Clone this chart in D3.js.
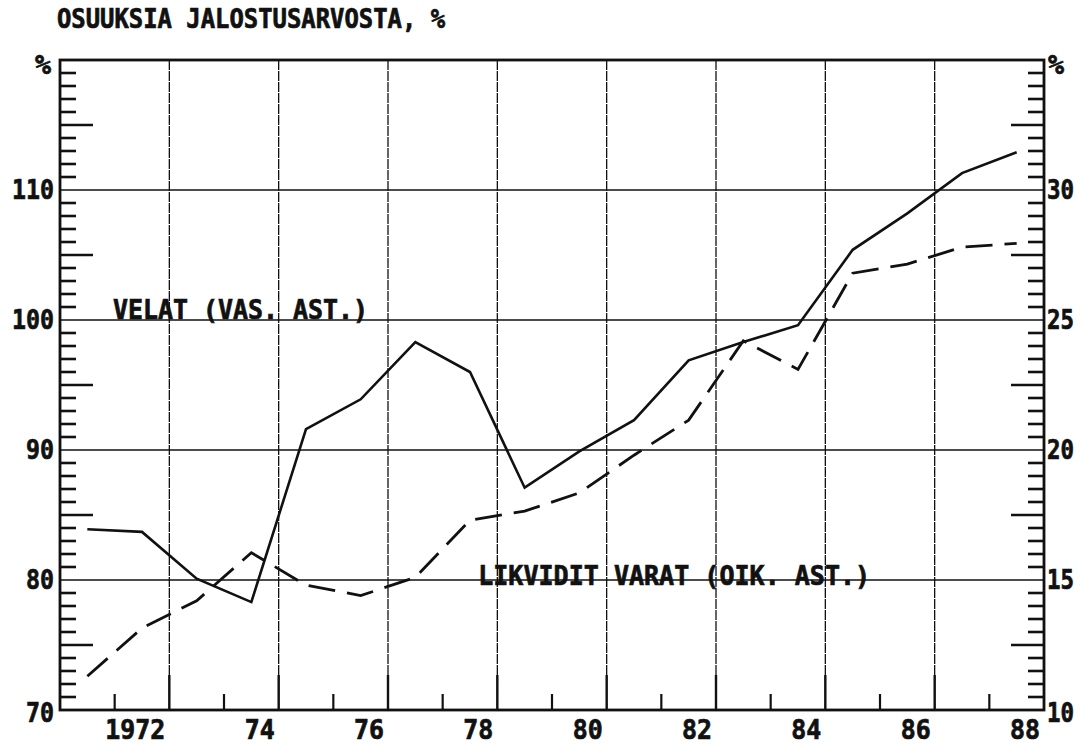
<!DOCTYPE html>
<html>
<head>
<meta charset="utf-8">
<script src="https://cdn.jsdelivr.net/npm/d3@7"></script>
<style>
    body { margin: 0; background: #fff; }
    svg text { font-family: "DejaVu Sans Mono", monospace; font-weight: bold; fill: #111; stroke: #111; stroke-width: 0.7px; }
</style>
</head>
<body>
<script>
const years = [1971, 1972, 1973, 1974, 1975, 1976, 1977, 1978, 1979, 1980, 1981, 1982, 1983, 1984, 1985, 1986, 1987, 1988];
// velat, vasen asteikko
const velat = [83.9, 83.7, 80.1, 78.3, 91.6, 93.9, 98.3, 96.0, 87.1, 89.9, 92.3, 96.9, 98.3, 99.6, 105.4, 108.2, 111.3, 112.9];
// likvidit varat, oikea asteikko
const likvidit = [11.3, 13.15, 14.2, 16.05, 14.8, 14.4, 15.1, 17.3, 17.65, 18.35, 19.8, 21.15, 24.2, 23.1, 26.8, 27.15, 27.8, 27.95];

const xLabelYears = [1972, 1974, 1976, 1978, 1980, 1982, 1984, 1986, 1988];
const xLabels = ["1972", "74", "76", "78", "80", "82", "84", "86", "88"];
const leftTicks = [70, 80, 90, 100, 110];
const rightTicks = [10, 15, 20, 25, 30];
const title = "OSUUKSIA JALOSTUSARVOSTA, %";
const velatLabel = "VELAT (VAS. AST.)";
const likviditLabel = "LIKVIDIT VARAT (OIK. AST.)";

function getMainNode() {
    let width = 1084;
    let height = 746;
    let left = 60, right = 1044, top = 60, bottom = 710;

    let x = d3.scaleLinear().domain([1970.5, 1988.5]).range([left, right]);
    let yL = d3.scaleLinear().domain([70, 120]).range([bottom, top]);
    let yR = d3.scaleLinear().domain([10, 35]).range([bottom, top]);

    let div = d3.create("div");
    let svg = div.append("svg").attr("width", width).attr("height", height)
        .style("display", "block");
    svg.append("rect").attr("width", width).attr("height", height).attr("fill", "#fff");

    // vaakasuorat apuviivat
    svg.selectAll("line.hgrid")
        .data([80, 90, 100, 110])
        .enter()
        .append("line")
        .attr("x1", left).attr("x2", right)
        .attr("y1", (d) => yL(d)).attr("y2", (d) => yL(d))
        .attr("stroke", "#111").attr("stroke-width", 1.7);

    // pystysuorat apuviivat
    let gridYears = d3.range(1972.5, 1988, 2);
    svg.selectAll("line.vgrid")
        .data(gridYears)
        .enter()
        .append("line")
        .attr("x1", (d) => x(d)).attr("x2", (d) => x(d))
        .attr("y1", top).attr("y2", bottom)
        .attr("stroke", "#111").attr("stroke-width", 1.3)
        .attr("stroke-dasharray", "10,1");
    svg.selectAll("line.vgridtick")
        .data(gridYears)
        .enter()
        .append("line")
        .attr("x1", (d) => x(d)).attr("x2", (d) => x(d))
        .attr("y1", bottom - 35).attr("y2", bottom)
        .attr("stroke", "#111").attr("stroke-width", 2.4);
    svg.selectAll("line.xminor")
        .data(d3.range(1971.5, 1988, 2))
        .enter()
        .append("line")
        .attr("x1", (d) => x(d)).attr("x2", (d) => x(d))
        .attr("y1", bottom - 16).attr("y2", bottom)
        .attr("stroke", "#111").attr("stroke-width", 2.2);

    // pystyakselien jaotus
    let yTicks = d3.range(71, 120).filter((v) => v % 10 != 0);
    let tickLen = (v) => (v % 5 == 0 ? 33 : 16);
    svg.selectAll("line.ltick")
        .data(yTicks)
        .enter()
        .append("line")
        .attr("x1", left).attr("x2", (d) => left + tickLen(d))
        .attr("y1", (d) => yL(d)).attr("y2", (d) => yL(d))
        .attr("stroke", "#111").attr("stroke-width", 2.6);
    svg.selectAll("line.rtick")
        .data(yTicks)
        .enter()
        .append("line")
        .attr("x1", right).attr("x2", (d) => right - tickLen(d))
        .attr("y1", (d) => yL(d)).attr("y2", (d) => yL(d))
        .attr("stroke", "#111").attr("stroke-width", 2.6);

    // kehys
    svg.append("rect")
        .attr("x", left).attr("y", top)
        .attr("width", right - left).attr("height", bottom - top)
        .attr("fill", "none").attr("stroke", "#111").attr("stroke-width", 2.8);

    // viivat
    let lineL = d3.line().x((d, i) => x(years[i])).y((d) => yL(d));
    let lineR = d3.line().x((d, i) => x(years[i])).y((d) => yR(d));
    svg.append("path")
        .attr("d", lineL(velat))
        .attr("fill", "none").attr("stroke", "#111")
        .attr("stroke-width", 2.6).attr("stroke-linejoin", "miter");
    svg.append("path")
        .attr("d", lineR(likvidit))
        .attr("fill", "none").attr("stroke", "#111")
        .attr("stroke-width", 2.8).attr("stroke-dasharray", "27,12");

    // tekstit
    let fs = 26;
    svg.append("text")
        .attr("x", 57).attr("y", 28)
        .attr("font-size", fs)
        .attr("textLength", 388).attr("lengthAdjust", "spacingAndGlyphs")
        .text(title);

    svg.selectAll("text.lt")
        .data(leftTicks)
        .enter()
        .append("text")
        .attr("x", left - 6)
        .attr("y", (d) => yL(d) + (d == 70 ? 12 : 9))
        .attr("text-anchor", "end")
        .attr("font-size", fs)
        .attr("textLength", (d) => String(d).length * 14)
        .attr("lengthAdjust", "spacingAndGlyphs")
        .text((d) => d);
    svg.selectAll("text.rt")
        .data(rightTicks)
        .enter()
        .append("text")
        .attr("x", right + 3)
        .attr("y", (d) => yR(d) + (d == 10 ? 12 : 9))
        .attr("font-size", fs)
        .attr("textLength", 27)
        .attr("lengthAdjust", "spacingAndGlyphs")
        .text((d) => d);
    svg.selectAll("text.xt")
        .data(xLabelYears)
        .enter()
        .append("text")
        .attr("x", (d) => x(d + 0.5) - 4)
        .attr("y", bottom + 29)
        .attr("text-anchor", "end")
        .attr("font-size", fs)
        .attr("textLength", (d, i) => xLabels[i].length * 15)
        .attr("lengthAdjust", "spacingAndGlyphs")
        .text((d, i) => xLabels[i]);

    svg.append("text")
        .attr("x", left - 9).attr("y", top + 14)
        .attr("text-anchor", "end").attr("font-size", fs)
        .attr("textLength", 16).attr("lengthAdjust", "spacingAndGlyphs")
        .text("%");
    svg.append("text")
        .attr("x", right + 4).attr("y", top + 14)
        .attr("font-size", fs)
        .attr("textLength", 16).attr("lengthAdjust", "spacingAndGlyphs")
        .text("%");

    svg.append("text")
        .attr("x", x(1971.47)).attr("y", yL(100) - 1)
        .attr("font-size", fs)
        .attr("textLength", 255).attr("lengthAdjust", "spacingAndGlyphs")
        .text(velatLabel);
    svg.append("text")
        .attr("x", x(1978.15)).attr("y", yL(80) + 5)
        .attr("font-size", fs)
        .attr("textLength", 392).attr("lengthAdjust", "spacingAndGlyphs")
        .text(likviditLabel);

    return div.node();
}

d3.select("body")
    .node()
    .appendChild(getMainNode());
</script>
</body>
</html>
